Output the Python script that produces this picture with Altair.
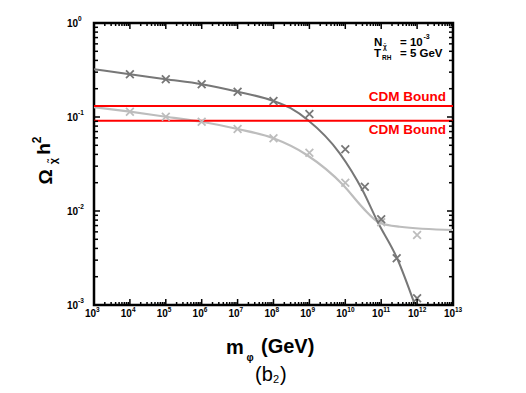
import altair as alt
import pandas as pd

# ---------------- data ----------------
dark_line_m = [1e3, 1e4, 1e5, 1e6, 1e7, 1e8, 3e8, 9e8, 7e9, 3e10, 8e10, 2.75e11, 8.7e11]
dark_line_v = [0.322, 0.285, 0.252, 0.223, 0.186, 0.148, 0.124, 0.093, 0.0411, 0.0167, 0.00764, 0.00316, 0.001]

light_line_m = [1e3, 1e4, 1e5, 1e6, 1e7, 1e8, 8.5e8, 8.7e9, 3.1e10, 9.3e10, 3.3e11, 1e13]
light_line_v = [0.127, 0.114, 0.1007, 0.089, 0.0745, 0.0593, 0.0394, 0.0189, 0.0108, 0.00745, 0.0068, 0.00628]

dark_pts_m = [1e4, 1e5, 1e6, 1e7, 1e8, 1e9, 1e10, 3.5e10, 1e11, 2.7e11, 1e12]
dark_pts_v = [0.285, 0.252, 0.223, 0.186, 0.148, 0.1076, 0.0453, 0.0181, 0.00816, 0.00314, 0.00118]

light_pts_m = [1e4, 1e5, 1e6, 1e7, 1e8, 1e9, 1e10, 1e11, 1e12]
light_pts_v = [0.114, 0.1007, 0.089, 0.0745, 0.0593, 0.0417, 0.020, 0.0076, 0.00556]

cdm_v = [0.131, 0.0914]
cdm_label = ["CDM Bound", "CDM Bound"]

x_exps = [3, 4, 5, 6, 7, 8, 9, 10, 11, 12, 13]
y_exps = [-3, -2, -1, 0]

# ---------------- helpers ----------------
W, H = 359, 282
FONT = "Liberation Sans"
DARK = "#777777"
LIGHT = "#bdbdbd"
XPATH = "M-1,-1L1,1M1,-1L-1,1"

xs = alt.Scale(type="log", domain=[1e3, 1e13])
ys = alt.Scale(type="log", domain=[1e-3, 1])


def X(f="m"):
    return alt.X(f"{f}:Q", scale=xs, axis=None)


def Y(f="v"):
    return alt.Y(f"{f}:Q", scale=ys, axis=None)


dark_line = alt.Chart(pd.DataFrame({"m": dark_line_m, "v": dark_line_v})).mark_line(
    color=DARK, strokeWidth=2, interpolate="monotone").encode(x=X(), y=Y())
light_line = alt.Chart(pd.DataFrame({"m": light_line_m, "v": light_line_v})).mark_line(
    color=LIGHT, strokeWidth=2.2, interpolate="monotone").encode(x=X(), y=Y())
dark_pts = alt.Chart(pd.DataFrame({"m": dark_pts_m, "v": dark_pts_v})).mark_point(
    shape=XPATH, size=60, filled=False, strokeWidth=1.8, color=DARK, opacity=1).encode(x=X(), y=Y())
light_pts = alt.Chart(pd.DataFrame({"m": light_pts_m, "v": light_pts_v})).mark_point(
    shape=XPATH, size=60, filled=False, strokeWidth=1.8, color=LIGHT, opacity=1).encode(x=X(), y=Y())

cdm_df = pd.DataFrame({"v": cdm_v, "label": cdm_label})
cdm_rules = alt.Chart(cdm_df).mark_rule(color="#ff0000", strokeWidth=2).encode(y=Y())
cdm_txt_hi = alt.Chart(cdm_df.iloc[[0]]).mark_text(
    align="right", baseline="middle", dy=-9, fontSize=13.5, fontWeight="bold", color="#ff0000", font=FONT
).encode(x=alt.value(W - 7), y=Y(), text="label:N")
cdm_txt_lo = alt.Chart(cdm_df.iloc[[1]]).mark_text(
    align="right", baseline="middle", dy=9.5, fontSize=13.5, fontWeight="bold", color="#ff0000", font=FONT
).encode(x=alt.value(W - 7), y=Y(), text="label:N")

# ---------------- ticks (inward, on all four sides) ----------------
xmaj = pd.DataFrame({"m": [10.0 ** k for k in x_exps], "e": [str(k) for k in x_exps]})
xmin = pd.DataFrame({"m": [10.0 ** k * j for k in x_exps[:-1] for j in range(2, 10)]})
ymaj = pd.DataFrame({"v": [10.0 ** k for k in y_exps], "e": [str(k) for k in y_exps]})
ymin = pd.DataFrame({"v": [10.0 ** k * j for k in y_exps[:-1] for j in range(2, 10)]})

tk = dict(color="black", strokeWidth=1.5)
ticks = [
    alt.Chart(xmaj).mark_rule(**tk).encode(x=X(), y=alt.value(H), y2=alt.value(H - 6)),
    alt.Chart(xmaj).mark_rule(**tk).encode(x=X(), y=alt.value(0), y2=alt.value(6)),
    alt.Chart(xmin).mark_rule(**tk).encode(x=X(), y=alt.value(H), y2=alt.value(H - 3)),
    alt.Chart(xmin).mark_rule(**tk).encode(x=X(), y=alt.value(0), y2=alt.value(3)),
    alt.Chart(ymaj).mark_rule(**tk).encode(y=Y(), x=alt.value(0), x2=alt.value(6)),
    alt.Chart(ymaj).mark_rule(**tk).encode(y=Y(), x=alt.value(W), x2=alt.value(W - 6)),
    alt.Chart(ymin).mark_rule(**tk).encode(y=Y(), x=alt.value(0), x2=alt.value(4)),
    alt.Chart(ymin).mark_rule(**tk).encode(y=Y(), x=alt.value(W), x2=alt.value(W - 4)),
]

# ---------------- tick labels ----------------
lab = dict(font=FONT, fontWeight="bold", color="black")
xlab_base = alt.Chart(xmaj).mark_text(align="right", baseline="middle", fontSize=10, dx=2, **lab).encode(
    x=X(), y=alt.value(H + 9), text=alt.value("10"))
xlab_exp = alt.Chart(xmaj).mark_text(align="left", baseline="middle", fontSize=6.5, dx=2, **lab).encode(
    x=X(), y=alt.value(H + 5), text="e:N")
ylab_base = alt.Chart(ymaj).mark_text(align="right", baseline="middle", fontSize=10, dy=1, **lab).encode(
    y=Y(), x=alt.value(-16), text=alt.value("10"))
ylab_exp = alt.Chart(ymaj).mark_text(align="left", baseline="middle", fontSize=6.5, dy=-4, **lab).encode(
    y=Y(), x=alt.value(-16), text="e:N")


def txt(s, x, y, size, weight="bold", align="left", angle=0):
    kw = dict(align=align, baseline="middle", fontSize=size, fontWeight=weight, font=FONT, color="black")
    if angle:
        kw["angle"] = angle
    return alt.Chart(pd.DataFrame({"t": [s]})).mark_text(**kw).encode(
        x=alt.value(x), y=alt.value(y), text="t:N")


annot = [
    # N_chi = 10^-3
    txt("N", 280, 19.5, 11.5),
    txt("χ̃", 289, 23.5, 6.5),
    txt("= 10", 306, 19.5, 11.5),
    txt("-3", 329.5, 13.5, 7),
    # T_RH = 5 GeV
    txt("T", 280, 31, 11.5),
    txt("RH", 288, 34.5, 6.5),
    txt("= 5 GeV", 306, 31, 11.5),
    # x title
    txt("m", 132, 325, 20),
    txt("φ", 156, 335, 10, align="center"),
    txt("(GeV)", 167, 324, 20),
    txt("(b", 161, 352, 20, weight="normal"),
    txt("2", 179, 357, 11, weight="normal"),
    txt(")", 186, 352, 20, weight="normal"),
    # y title (rotated)
    txt("Ω", -48, 154, 19, align="center", angle=270),
    txt("χ̃", -40, 138, 11, align="center", angle=270),
    txt("h", -50, 126, 19, align="center", angle=270),
    txt("2", -57, 117, 12, align="center", angle=270),
]

chart = alt.layer(
    light_line, dark_line, cdm_rules, light_pts, dark_pts, cdm_txt_hi, cdm_txt_lo,
    *ticks, xlab_base, xlab_exp, ylab_base, ylab_exp, *annot
).properties(
    width=W, height=H,
    padding={"left": 86, "top": 15, "right": 60, "bottom": 80},
    autosize=alt.AutoSizeParams(type="none"),
).configure_view(stroke="black", strokeWidth=2.5)

chart.save("out.html", embed_options={"renderer": "svg", "actions": False})
